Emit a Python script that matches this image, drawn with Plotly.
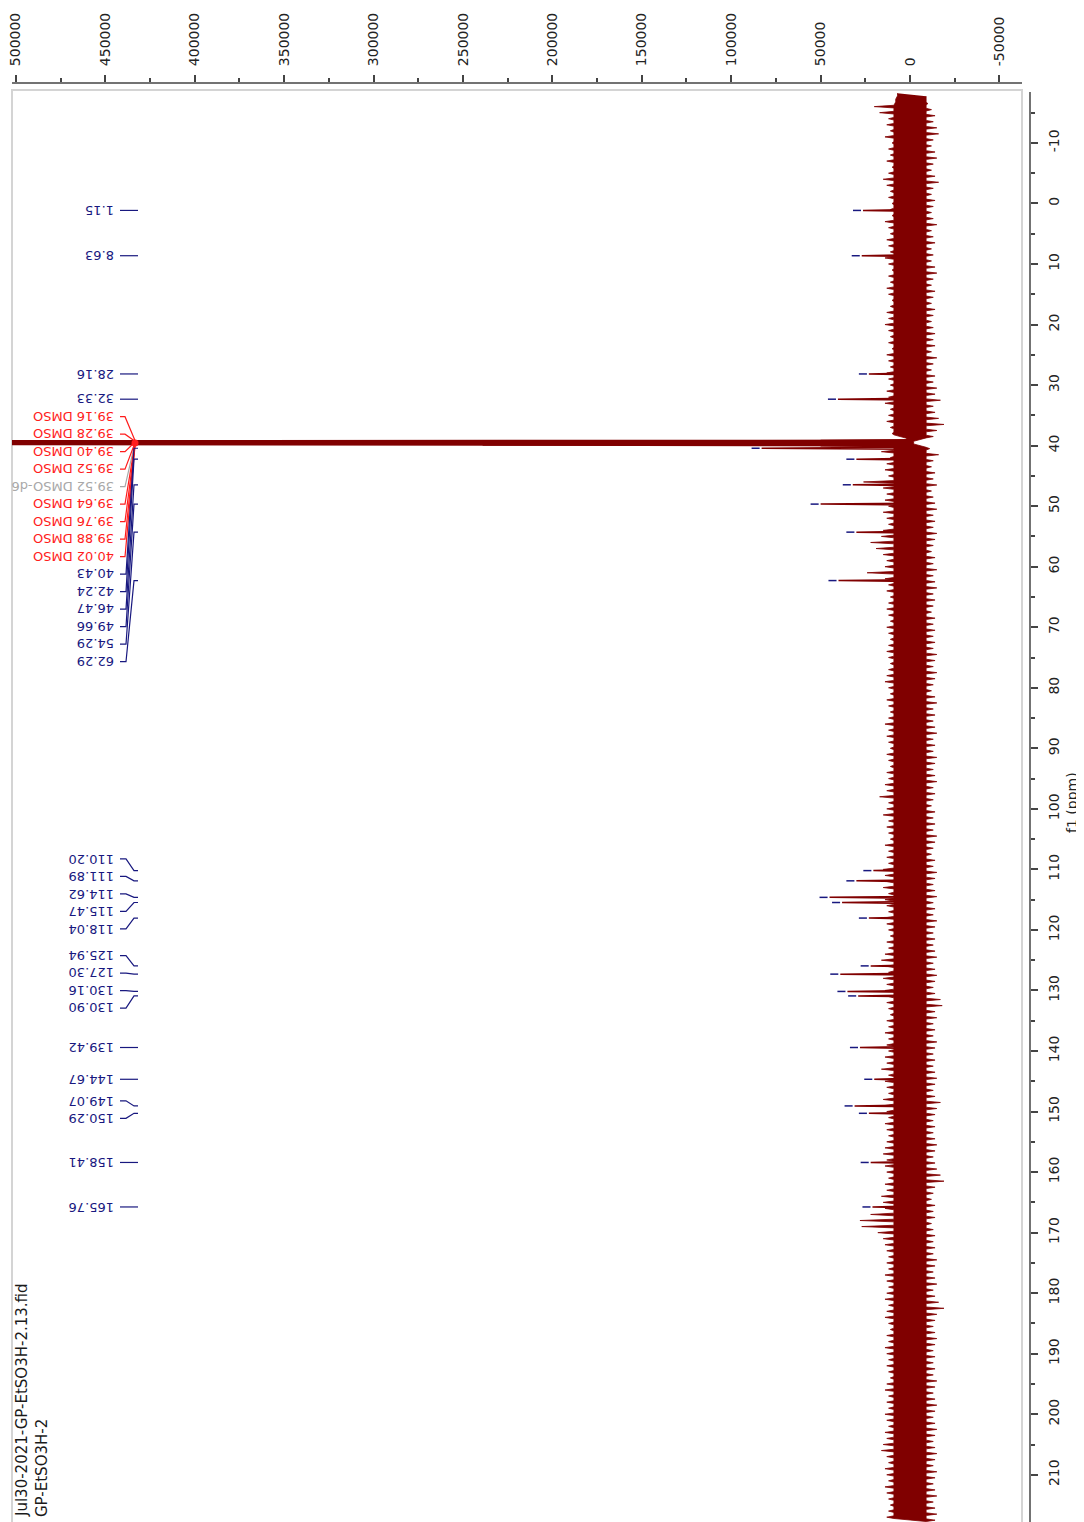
import plotly.graph_objects as go

# ------------------------------------------------------------------ data
# noise envelope of the spectrum baseline (in units of 1000)
noise_ppm = list(range(-18, 218))
noise_upper_k = [
    7, 8, 20, 17, 12, 13, 11, 14, 10, 12,
    11, 13, 10, 12, 15, 13, 11, 12, 10, 11,
    10, 14, 12, 11, 13, 12, 11, 14, 12, 10,
    12, 11, 13, 12, 10, 11, 13, 12, 14, 12,
    11, 12, 10, 13, 12, 11, 13, 12, 11, 13,
    12, 14, 11, 12, 13, 11, 10, 2, 12, 16,
    11, 13, 14, 12, 26, 15, 13, 14, 12, 15,
    13, 12, 15, 16, 22, 19, 15, 13, 14, 24,
    14, 12, 13, 11, 12, 13, 12, 11, 13, 12,
    11, 12, 13, 12, 11, 12, 13, 14, 12, 11,
    13, 12, 11, 12, 14, 12, 13, 12, 11, 13,
    12, 11, 13, 12, 14, 13, 17, 12, 13, 15,
    12, 13, 12, 11, 14, 12, 13, 12, 15, 14,
    13, 15, 12, 14, 13, 12, 14, 13, 12, 11,
    13, 12, 14, 16, 13, 12, 15, 13, 14, 12,
    13, 12, 11, 13, 12, 14, 12, 13, 12, 14,
    13, 16, 12, 14, 13, 12, 15, 14, 13, 12,
    14, 13, 12, 13, 14, 15, 13, 14, 13, 12,
    14, 13, 16, 15, 14, 22, 28, 27, 18, 15,
    14, 13, 12, 13, 12, 14, 13, 12, 13, 14,
    12, 13, 14, 12, 11, 13, 12, 14, 13, 12,
    13, 12, 11, 13, 14, 12, 13, 12, 14, 13,
    12, 14, 13, 15, 16, 13, 12, 14, 13, 12,
    14, 13, 12, 11, 12, 13,
]
noise_lower_k = [
    9, 10, 12, 14, 13, 15, 16, 13, 12, 14,
    15, 13, 12, 14, 16, 13, 12, 14, 13, 12,
    13, 15, 12, 13, 14, 12, 13, 12, 14, 15,
    13, 12, 14, 13, 12, 14, 13, 12, 13, 14,
    13, 14, 12, 15, 13, 12, 14, 13, 15, 14,
    17, 13, 14, 16, 19, 15, 13, 2, 11, 16,
    13, 12, 14, 13, 15, 12, 13, 14, 15, 13,
    14, 13, 15, 14, 13, 12, 14, 13, 15, 13,
    14, 15, 13, 14, 13, 12, 14, 13, 14, 13,
    14, 13, 15, 14, 13, 15, 14, 13, 12, 14,
    15, 13, 14, 13, 14, 15, 13, 14, 13, 15,
    14, 13, 14, 15, 13, 14, 13, 12, 14, 13,
    14, 13, 15, 14, 13, 12, 14, 13, 15, 14,
    13, 14, 15, 13, 14, 13, 15, 14, 13, 14,
    13, 14, 15, 13, 14, 15, 14, 13, 14, 17,
    18, 14, 15, 13, 14, 13, 15, 14, 13, 14,
    13, 14, 15, 14, 13, 14, 17, 15, 14, 13,
    14, 13, 14, 15, 14, 13, 14, 15, 17, 19,
    14, 13, 12, 14, 13, 14, 12, 13, 14, 13,
    14, 13, 15, 14, 13, 14, 15, 13, 14, 16,
    19, 15, 14, 13, 14, 15, 14, 13, 14, 13,
    14, 13, 15, 14, 13, 14, 15, 14, 13, 14,
    15, 14, 13, 14, 15, 14, 13, 15, 14, 13,
    14, 15, 13, 14, 15, 14,
]

# picked peaks
peak_ppm = [1.15, 8.63, 28.16, 32.33,
            39.16, 39.28, 39.40, 39.52, 39.52, 39.64, 39.76, 39.88, 40.02,
            40.43, 42.24, 46.47, 49.66, 54.29, 62.29,
            110.20, 111.89, 114.62, 115.47, 118.04,
            125.94, 127.30, 130.16, 130.90,
            139.42, 144.67, 149.07, 150.29,
            158.41, 165.76]
peak_height = [26300, 27000, 23000, 40300,
               50000, 1000000, 1900000, 2400000, 2400000, 1900000, 1000000, 239000, 50000,
               83000, 30000, 32000, 50000, 30000, 40000,
               20500, 30000, 45000, 38000, 23000,
               22000, 39000, 35000, 29000,
               28000, 20000, 31000, 23000,
               22000, 21000]
peak_label = ["1.15", "8.63", "28.16", "32.33",
              "39.16 DMSO", "39.28 DMSO", "39.40 DMSO", "39.52 DMSO", "39.52 DMSO-d6",
              "39.64 DMSO", "39.76 DMSO", "39.88 DMSO", "40.02 DMSO",
              "40.43", "42.24", "46.47", "49.66", "54.29", "62.29",
              "110.20", "111.89", "114.62", "115.47", "118.04",
              "125.94", "127.30", "130.16", "130.90",
              "139.42", "144.67", "149.07", "150.29",
              "158.41", "165.76"]
# c = compound, s = solvent line, r = solvent reference
peak_kind = ["c", "c", "c", "c",
             "s", "s", "s", "s", "r", "s", "s", "s", "s",
             "c", "c", "c", "c", "c", "c",
             "c", "c", "c", "c", "c",
             "c", "c", "c", "c",
             "c", "c", "c", "c",
             "c", "c"]

x_tick_vals = [500000, 450000, 400000, 350000, 300000, 250000, 200000,
               150000, 100000, 50000, 0, -50000]
x_tick_text = ["500000", "450000", "400000", "350000", "300000", "250000", "200000",
               "150000", "100000", "50000", "0", "-50000"]
y_tick_vals = [-10, 0, 10, 20, 30, 40, 50, 60, 70, 80, 90, 100, 110, 120, 130,
               140, 150, 160, 170, 180, 190, 200, 210]
y_tick_text = ["-10", "0", "10", "20", "30", "40", "50", "60", "70", "80", "90", "100",
               "110", "120", "130", "140", "150", "160", "170", "180", "190", "200", "210"]

file_name = "Jul30-2021-GP-EtSO3H-2.13.fid"
sample_name = "GP-EtSO3H-2"

# ------------------------------------------------------------------ geometry (page pixels)
W, H = 1084, 1522
OFF = 8                      # default body margin of the html page
PL, PR, PT, PB = 12, 1030, 83, 1522
X_LEFT, X_RIGHT = 502200, -67100
Y_TOP, Y_BOTTOM = -19.9, 217.8
CORE = 9000                  # half-width of the solid core of the noise band (styling)


def px_to_int(px):
    return X_LEFT + (px - PL) / (PR - PL) * (X_RIGHT - X_LEFT)


def ppm_to_py(p):
    return PT + (p - Y_TOP) / (Y_BOTTOM - Y_TOP) * (PB - PT)


def py_to_ppm(py):
    return Y_TOP + (py - PT) / (PB - PT) * (Y_BOTTOM - Y_TOP)


def paper_x(px):
    return (px - PL) / (PR - PL)


def paper_y(py):
    return (PB - py) / (PB - PT)


DARKRED = "#800000"
NAVY = "#18187f"
RED = "#ff1c1c"
GRAY = "#a8a8a8"
FONT = "DejaVu Sans"

fig = go.Figure()

# noise band: solid core with needle-like excursions to the read envelope values
ux, uy, lx, lyy = [], [], [], []
for p, u, v in zip(noise_ppm, noise_upper_k, noise_lower_k):
    uu, vv = u * 1000, v * 1000
    cu, cv = min(CORE, uu), min(CORE, vv)
    ux += [cu, uu, cu]
    uy += [p - 0.22, p, p + 0.22]
    lx += [-cv, -vv, -cv]
    lyy += [p + 0.28, p + 0.5, p + 0.72]
nx = ux + lx[::-1]
ny = uy + lyy[::-1]
fig.add_trace(go.Scatter(x=nx, y=ny, mode="lines", fill="toself", fillcolor=DARKRED,
                         line=dict(color=DARKRED, width=0.8), hoverinfo="skip"))

# peak spikes
sx, sy = [], []
for p, h in zip(peak_ppm, peak_height):
    sx += [0, h, 0, None]
    sy += [p - 0.15, p, p + 0.15, None]
fig.add_trace(go.Scatter(x=sx, y=sy, mode="lines", line=dict(color=DARKRED, width=1.5),
                         hoverinfo="skip"))

# peak-pick dashes
dx, dy = [], []
for p, h, k in zip(peak_ppm, peak_height, peak_kind):
    if k == "c":
        dx += [h + 1100, h + 5600, None]
        dy += [p, p, None]
fig.add_trace(go.Scatter(x=dx, y=dy, mode="lines", line=dict(color=NAVY, width=1.5),
                         hoverinfo="skip"))

# label layout (spread overlapping labels)
S = 17.5
ppy = [ppm_to_py(p) for p in peak_ppm]
groups = []
for i in range(len(peak_ppm)):
    y = ppy[i]
    if groups:
        g = groups[-1]
        bottom = g["top"] + (len(g["idx"]) - 1) * S
        if y < bottom + S:
            g["idx"].append(i)
            m = len(g["idx"])
            mean = sum(ppy[j] for j in g["idx"]) / m
            top = mean - (m - 1) / 2 * S
            if len(groups) > 1:
                pg = groups[-2]
                pb = pg["top"] + (len(pg["idx"]) - 1) * S
                top = max(top, pb + S)
            g["top"] = top
            continue
    groups.append({"idx": [i], "top": y})
ly = [0.0] * len(peak_ppm)
for g in groups:
    for k, j in enumerate(g["idx"]):
        ly[j] = g["top"] + k * S

colors = {"c": NAVY, "s": RED, "r": GRAY}
for kind in ["r", "s", "c"]:
    cx, cy = [], []
    for i in range(len(peak_ppm)):
        if peak_kind[i] != kind:
            continue
        if kind == "c":
            pts = [(120, ly[i]), (126, ly[i]), (134, ppy[i]), (138, ppy[i])]
        else:
            pts = [(120, ly[i]), (125, ly[i]), (135, ppy[i])]
        for (a, b) in pts:
            cx.append(px_to_int(a))
            cy.append(py_to_ppm(b))
        cx.append(None)
        cy.append(None)
    fig.add_trace(go.Scatter(x=cx, y=cy, mode="lines", line=dict(color=colors[kind], width=1.2),
                             hoverinfo="skip"))

solv = [p for p, k in zip(peak_ppm, peak_kind) if k == "s"]
fig.add_trace(go.Scatter(x=[px_to_int(135)], y=[sum(solv) / len(solv)], mode="markers",
                         marker=dict(color=RED, size=7), hoverinfo="skip"))

annotations = []
for i in range(len(peak_ppm)):
    annotations.append(dict(x=paper_x(116), xref="paper", y=py_to_ppm(ly[i]), yref="y",
                            text=peak_label[i], textangle=180, showarrow=False,
                            xanchor="right", yanchor="middle",
                            font=dict(family=FONT, size=13, color=colors[peak_kind[i]])))

annotations.append(dict(x=paper_x(1072), y=paper_y(803), xref="paper", yref="paper",
                        text="f1 (ppm)", textangle=-90, showarrow=False,
                        xanchor="center", yanchor="middle",
                        font=dict(family=FONT, size=14, color="#222")))
annotations.append(dict(x=paper_x(22), y=paper_y(1519), xref="paper", yref="paper",
                        text=file_name, textangle=-90, showarrow=False,
                        xanchor="center", yanchor="bottom",
                        font=dict(family=FONT, size=15, color="#1a1a1a")))
annotations.append(dict(x=paper_x(42), y=paper_y(1519), xref="paper", yref="paper",
                        text=sample_name, textangle=-90, showarrow=False,
                        xanchor="center", yanchor="bottom",
                        font=dict(family=FONT, size=15, color="#1a1a1a")))

shapes = [
    dict(type="rect", xref="paper", yref="paper", x0=paper_x(12), x1=paper_x(1022),
         y0=paper_y(1530), y1=paper_y(90), line=dict(color="#d4d4d4", width=2), layer="below"),
    dict(type="line", xref="paper", yref="paper", x0=paper_x(12), x1=paper_x(1022),
         y0=paper_y(83), y1=paper_y(83), line=dict(color="#444", width=1.5)),
    dict(type="line", xref="paper", yref="paper", x0=paper_x(1030), x1=paper_x(1030),
         y0=paper_y(1530), y1=paper_y(92), line=dict(color="#444", width=1.5)),
]

x_minor = [v - 25000 for v in x_tick_vals if X_RIGHT < v - 25000 < X_LEFT]
y_minor = [v + 5 for v in y_tick_vals[:-1]] + [y_tick_vals[0] - 5]

fig.update_layout(
    width=W - OFF, height=H - OFF,
    margin=dict(l=PL - OFF, r=W - PR, t=PT - OFF, b=H - PB),
    paper_bgcolor="white", plot_bgcolor="white",
    showlegend=False,
    annotations=annotations,
    shapes=shapes,
    xaxis=dict(range=[X_LEFT, X_RIGHT], side="top", showgrid=False, zeroline=False,
               showline=False, ticks="outside", ticklen=7, tickwidth=1.5, tickcolor="#444",
               tickmode="array", tickvals=x_tick_vals, ticktext=x_tick_text, tickangle=-90,
               ticklabelstandoff=6, ticklabeloverflow="allow",
               tickfont=dict(family=FONT, size=14, color="#222"),
               minor=dict(tickmode="array", tickvals=x_minor, ticks="outside", ticklen=4,
                          tickwidth=1.5, tickcolor="#444")),
    yaxis=dict(range=[Y_BOTTOM, Y_TOP], side="right", showgrid=False, zeroline=False,
               showline=False, ticks="outside", ticklen=7, tickwidth=1.5, tickcolor="#444",
               tickmode="array", tickvals=y_tick_vals, ticktext=y_tick_text, tickangle=-90,
               ticklabelstandoff=4, ticklabeloverflow="allow",
               tickfont=dict(family=FONT, size=14, color="#222"),
               minor=dict(tickmode="array", tickvals=y_minor, ticks="outside", ticklen=4,
                          tickwidth=1.5, tickcolor="#444")),
)

fig.write_html("out.html")
